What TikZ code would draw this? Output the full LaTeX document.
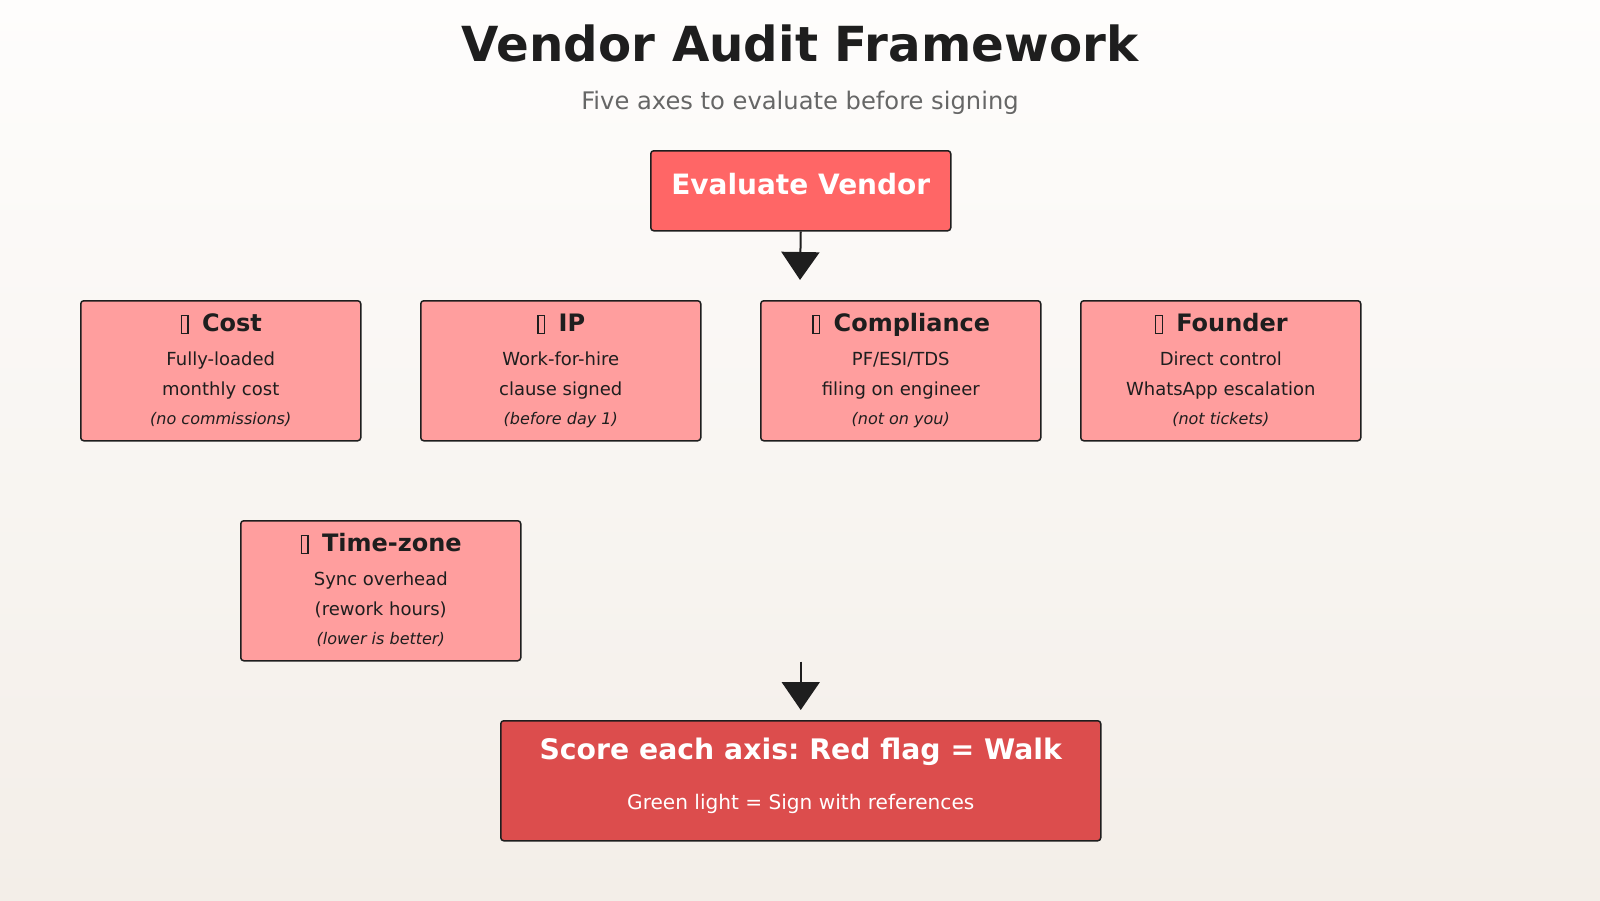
\documentclass[tikz,border=0pt]{standalone}
\usepackage{fontspec}
\setmainfont{DejaVu Sans}
\usetikzlibrary{arrows.meta}
\definecolor{ink}{HTML}{1E1E1E}
\definecolor{subgray}{HTML}{666666}
\definecolor{bgtop}{HTML}{FEFDFC}
\definecolor{bgbot}{HTML}{F3EEE8}
\definecolor{evfill}{HTML}{FF6666}
\definecolor{axisfill}{HTML}{FF9E9E}
\definecolor{scorefill}{HTML}{DC4D4D}
\frenchspacing
\newcommand{\fsz}[1]{\fontsize{#1}{#1}\selectfont}
\newcommand{\tofu}{\kern1pt\raisebox{-1.6pt}{\setlength{\fboxsep}{0pt}\setlength{\fboxrule}{1.3pt}\fbox{\rule{0pt}{16.6pt}\rule{5.4pt}{0pt}}}\kern5pt}
\newcommand{\axisbox}[7]{%
  \node[axis] (#1) at (#2,#3) {};
  \node[axttl] (#1-t) at ([yshift=-31pt]#1.north) {\tofu{} #4};
  \node[axtxt] (#1-a) at ([yshift=-65pt]#1.north) {#5};
  \node[axtxt] (#1-b) at ([yshift=-95pt]#1.north) {#6};
  \node[axnote] (#1-c) at ([yshift=-124pt]#1.north) {#7};
}
\begin{document}
\begin{tikzpicture}[x=1pt,y=-1pt,
  box/.style={draw=ink, line width=1.5pt, rounded corners=3pt, inner sep=0pt, anchor=north west},
  axis/.style={box, fill=axisfill, minimum width=280pt, minimum height=140pt},
  txt/.style={inner sep=0pt, anchor=base},
  axttl/.style={txt, text=ink, font=\fsz{24}\bfseries},
  axtxt/.style={txt, text=ink, font=\fsz{18}},
  axnote/.style={txt, text=ink, font=\fsz{16}\itshape},
  arr/.style={draw=ink, line width=2pt, -{Triangle[width=38pt,length=28pt]}}
]
\useasboundingbox (0,0) rectangle (1600,900);
\shade[top color=bgtop, bottom color=bgbot] (0,0) rectangle (1600,900);

\node[txt, text=ink, font=\fsz{48.3}\bfseries] (title) at (800,61) {Vendor Audit Framework};
\node[txt, text=subgray, font=\fsz{24.2}] (subtitle) at (800,109) {Five axes to evaluate before signing};

\node[box, fill=evfill, minimum width=300pt, minimum height=80pt] (ev) at (650,150) {};
\node[txt, text=white, font=\fsz{28}\bfseries] (ev-t) at ([yshift=-44pt]ev.north) {Evaluate Vendor};

\axisbox{cost}{80}{300}{Cost}{Fully-loaded}{monthly cost}{(no commissions)}
\axisbox{ip}{420}{300}{IP}{Work-for-hire}{clause signed}{(before day 1)}
\axisbox{comp}{760}{300}{Compliance}{PF/ESI/TDS}{filing on engineer}{(not on you)}
\axisbox{found}{1080}{300}{Founder}{Direct control}{WhatsApp escalation}{(not tickets)}
\axisbox{tz}{240}{520}{Time-zone}{Sync overhead}{(rework hours)}{(lower is better)}

\node[box, fill=scorefill, minimum width=600pt, minimum height=120pt] (score) at (500,720) {};
\node[txt, text=white, font=\fsz{28.3}\bfseries] (score-t) at ([yshift=-39pt]score.north) {Score each axis: Red flag = Walk};
\node[txt, text=white, font=\fsz{20.1}] (score-s) at ([yshift=-89pt]score.north) {Green light = Sign with references};

\coordinate (a1) at (800,280);
\draw[arr] (ev.south) -- (a1);
\coordinate (a2s) at (score.north |- tz.south);
\coordinate (a2e) at ([yshift=10pt]score.north);
\draw[arr] (a2s) -- (a2e);
\end{tikzpicture}
\end{document}
